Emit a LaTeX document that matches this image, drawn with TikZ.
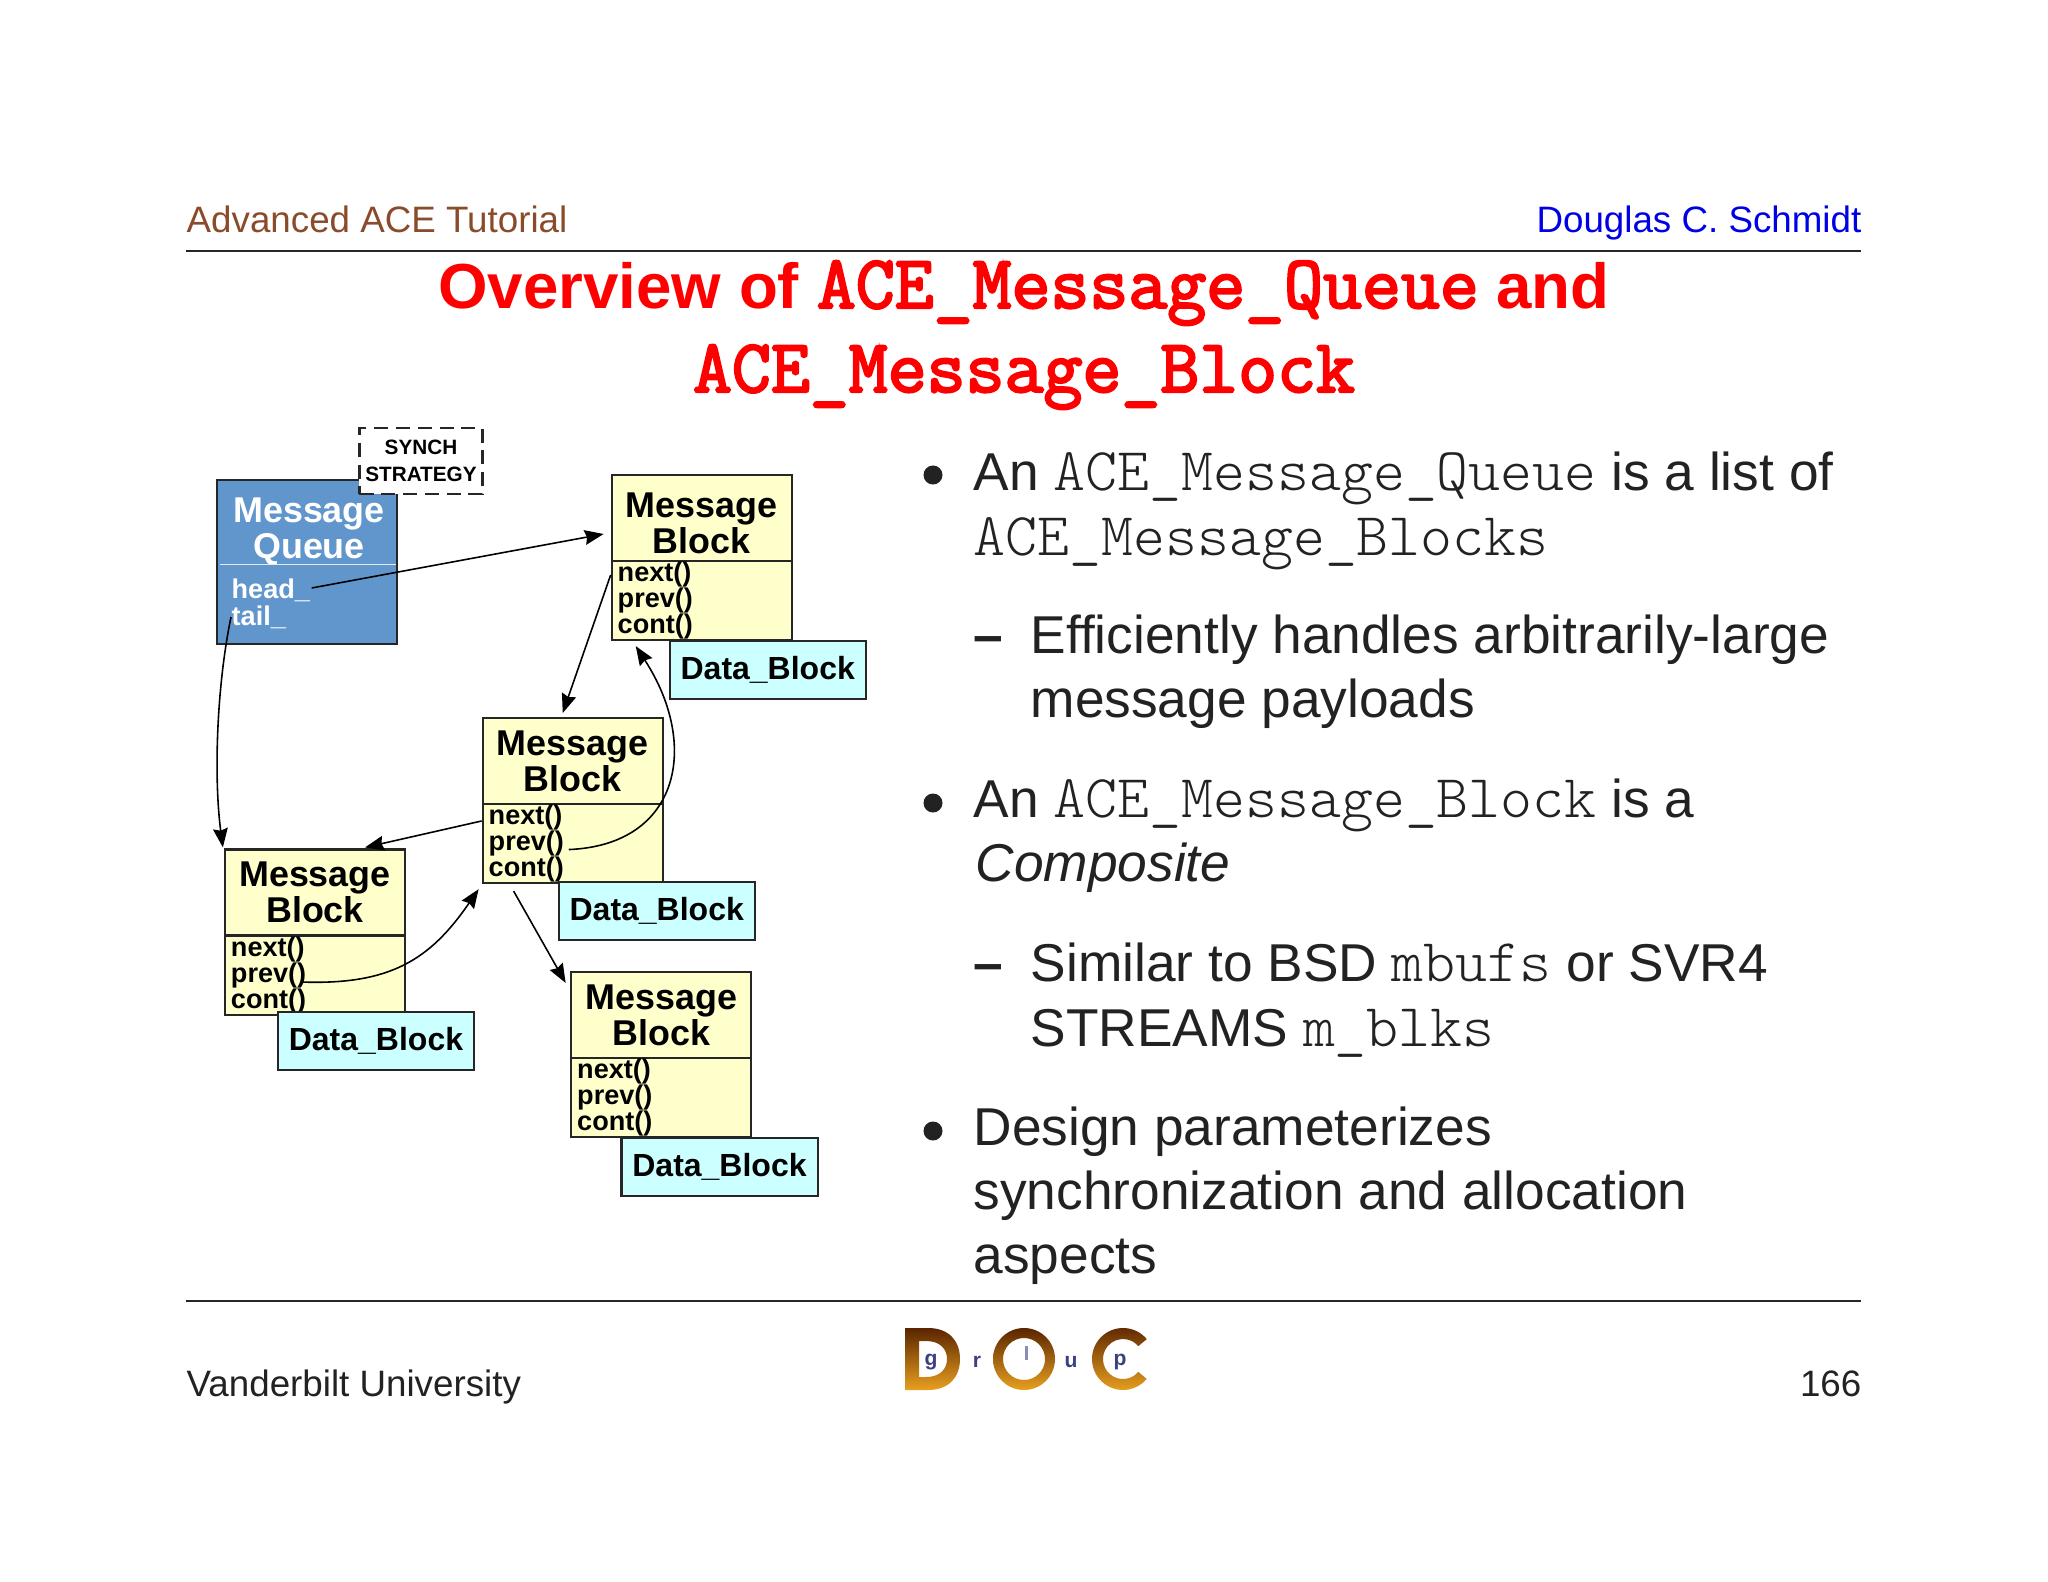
\documentclass[tikz,border=0pt]{standalone}
\usepackage{fontspec}
\setmainfont{Liberation Sans}
\newfontfamily\CodeFont{Latin Modern Mono Light}
\newfontfamily\HeadCodeFont{Latin Modern Mono}[FakeBold=3]
\usetikzlibrary{arrows.meta,positioning}
\definecolor{QueueBlue}{HTML}{6196CC}
\definecolor{BlockYellow}{HTML}{FFFFCC}
\definecolor{DataCyan}{HTML}{CCFFFF}
\definecolor{HeaderBrown}{HTML}{8A4B2A}
\definecolor{BodyGray}{HTML}{222222}
\definecolor{LogoDark}{HTML}{5A2400}
\definecolor{LogoLight}{HTML}{E8A020}
\definecolor{LogoBlue}{HTML}{3A4080}
\newcommand{\Code}[1]{{\CodeFont\fontsize{17.3pt}{18pt}\selectfont #1}}
\newcommand{\HeadCode}[1]{{\HeadCodeFont\fontsize{21.5pt}{20pt}\selectfont #1}}

\begin{document}
\begin{tikzpicture}
    [
        x=0.01cm,y=-0.01cm,
        BlockTitle/.style={rectangle,draw=black!85,line width=0.6pt,fill=BlockYellow,minimum width=1.8cm,minimum height=0.86cm,
            inner sep=0pt,align=center,font=\fontsize{10.2pt}{10.2pt}\selectfont\bfseries},
        BlockBody/.style={rectangle,draw=black!85,line width=0.6pt,fill=BlockYellow,text width=1.68cm,minimum height=0.79cm,
            inner xsep=0.06cm,inner ysep=-0.6pt,align=left,font=\fontsize{7.7pt}{7.4pt}\selectfont\bfseries},
        DataBox/.style={rectangle,draw=black!85,line width=0.6pt,fill=DataCyan,minimum width=1.96cm,minimum height=0.58cm,
            inner sep=0pt,font=\fontsize{9.1pt}{9.1pt}\selectfont\bfseries},
        QueueField/.style={anchor=west,inner sep=0pt,text=white,font=\fontsize{7.7pt}{7.4pt}\selectfont\bfseries},
        Link/.style={-{Stealth[length=5.4pt,width=4.2pt,inset=0.6pt]},line width=0.45pt},
        Line/.style={anchor=base west,inner sep=0pt,text=BodyGray,font=\fontsize{15.15pt}{18pt}\selectfont},
        Bullet/.style={circle,fill=BodyGray,inner sep=0pt,minimum size=0.19cm},
        Heading/.style={anchor=base,inner sep=0pt,text=red,font=\fontsize{18.1pt}{20pt}\selectfont\bfseries},
        Margin/.style={inner sep=0pt,font=\fontsize{10.45pt}{12pt}\selectfont},
        Rule/.style={line width=0.55pt,black!85},
        LogoLetter/.style={inner sep=0pt,text=LogoBlue,font=\fontsize{6pt}{6pt}\selectfont\bfseries}
    ]
    \useasboundingbox (0,0) rectangle (2048,1582);

    % header and footer
    \node[Margin,anchor=base west,text=HeaderBrown] (Course) at (186,232) {Advanced ACE Tutorial};
    \node[Margin,anchor=base east,text=blue!90!black] (Author) at (1862,232) {Douglas C. Schmidt};
    \coordinate (HeaderLeft) at (185.5,251);
    \coordinate (HeaderRight) at (1861,251);
    \draw[Rule] (HeaderLeft) -- (HeaderRight);
    \coordinate (FooterLeft) at (185.5,1301);
    \coordinate (FooterRight) at (1861,1301);
    \draw[Rule] (FooterLeft) -- (FooterRight);
    \node[Margin,anchor=base west,text=BodyGray] (School) at (186,1396) {Vanderbilt University};
    \node[Margin,anchor=base east,text=BodyGray] (Page) at (1862,1396) {166};

    \node[Heading] (Title1) at (1024,308) {Overview of \HeadCode{ACE\_Message\_Queue} and};
    \node[Heading] (Title2) at (1024,392) {\HeadCode{ACE\_Message\_Block}};

    % queue
    \node[rectangle,draw=black!85,line width=0.6pt,fill=QueueBlue,minimum width=1.8cm,minimum height=1.64cm,inner sep=0pt] (Queue) at (307,562) {};
    \node[inner sep=0pt,align=center,text=white,font=\fontsize{10.2pt}{10.2pt}\selectfont\bfseries] (QueueTitle) at (309,532) {Message\\Queue};
    \coordinate (QueueRuleLeft) at (220,564.5);
    \coordinate (QueueRuleRight) at (396,564.5);
    \draw[white!80!QueueBlue,line width=0.5pt] (QueueRuleLeft) -- (QueueRuleRight);
    \node[QueueField] (QueueHead) at (231,590) {head\_};
    \node[QueueField] (QueueTail) at (231,617) {tail\_};
    \node[rectangle,draw=black!85,dash pattern=on 4pt off 2.2pt,line width=0.6pt,fill=white,minimum width=1.23cm,minimum height=0.66cm,
        inner sep=0pt,align=center,font=\fontsize{5.9pt}{7.6pt}\selectfont\bfseries] (Synch) at (421,461) {SYNCH\\STRATEGY};

    % blocks
    \node[BlockTitle] (Block1) at (701.75,518) {\rule{0pt}{10pt}Message\\Block};
    \node[BlockBody,below=-0.6pt of Block1] (Body1) {next()\\prev()\\cont()};
    \node[DataBox] (Data1) at (767.75,670) {Data\_Block};

    \node[BlockTitle] (Block2) at (572.75,761) {Message\\Block};
    \node[BlockBody,below=-0.6pt of Block2] (Body2) {next()\\prev()\\cont()};
    \node[DataBox] (Data2) at (656.75,911) {Data\_Block};

    \node[BlockTitle] (Block3) at (315,892.5) {Message\\Block};
    \node[BlockBody,below=-0.6pt of Block3] (Body3) {next()\\prev()\\cont()};
    \node[DataBox] (Data3) at (376,1041) {Data\_Block};

    \node[BlockTitle] (Block4) at (661.25,1015) {Message\\Block};
    \node[BlockBody,below=-0.6pt of Block4] (Body4) {next()\\prev()\\cont()};
    \node[DataBox] (Data4) at (719.5,1167) {Data\_Block};

    % links
    \draw[Link] ([shift={(1,-2)}]QueueHead.east) -- ([shift={(-7,16)}]Block1.west);
    \draw[Link] (QueueTail.west) .. controls (216,690) and (214,780) .. ([shift={(-1,-1)}]Block3.north west);
    \draw[Link] ([shift={(0,15)}]Body1.north west) -- ([shift={(-10,-4)}]Block2.north);
    \draw[Link] ([shift={(-4,6)}]Body2.center) .. controls (680,845) and (700,745) .. ([shift={(-66,5)}]Body1.south);
    \draw[Link] ([shift={(0,18)}]Body2.north west) -- ([shift={(50,-1)}]Block3.north);
    \draw[Link] ([shift={(-13,7)}]Body3.center) .. controls (390,985) and (430,960) .. ([shift={(-3,5)}]Body2.south west);
    \draw[Link] ([shift={(32,7)}]Body2.south west) -- ([shift={(-4.5,12)}]Block4.north west);

    % bullet list
    \node[Bullet] (Dot1) at (933,475) {};
    \node[Line] (Item1a) at (973,490) {An \Code{ACE\_Message\_Queue} is a list of};
    \node[Line] (Item1b) at (973,555) {\Code{ACE\_Message\_Blocks}};
    \node[Line,font=\fontsize{15.15pt}{18pt}\selectfont\bfseries] (Dash1) at (973,653) {--};
    \node[Line] (Sub1a) at (1030,653) {Efficiently handles arbitrarily-large};
    \node[Line] (Sub1b) at (1030,717) {message payloads};
    \node[Bullet] (Dot2) at (933,803) {};
    \node[Line] (Item2a) at (973,817) {An \Code{ACE\_Message\_Block} is a};
    \node[Line] (Item2b) at (975,881) {\itshape Composite};
    \node[Line,font=\fontsize{15.15pt}{18pt}\selectfont\bfseries] (Dash2) at (973,981) {--};
    \node[Line] (Sub2a) at (1030,981) {Similar to BSD \Code{mbufs} or SVR4};
    \node[Line] (Sub2b) at (1030,1046) {STREAMS \Code{m\_blks}};
    \node[Bullet] (Dot3) at (933,1131) {};
    \node[Line] (Item3a) at (973,1145) {Design parameterizes};
    \node[Line] (Item3b) at (973,1209) {synchronization and allocation};
    \node[Line] (Item3c) at (973,1273) {aspects};

    % logo
    \shade[even odd rule,top color=LogoDark,bottom color=LogoLight]
        (905,1328) -- (928,1328) .. controls (950,1328) and (960,1342) .. (960,1359)
        .. controls (960,1376) and (950,1390) .. (928,1390) -- (905,1390) -- cycle
        (919,1341) -- (926,1341) .. controls (940,1341) and (947,1349) .. (947,1359)
        .. controls (947,1369) and (940,1377) .. (926,1377) -- (919,1377) -- cycle;
    \shade[even odd rule,top color=LogoDark,bottom color=LogoLight]
        (1024,1359) circle[radius=31] (1024,1359) circle[radius=21];
    \shade[top color=LogoDark,bottom color=LogoLight]
        (1123,1359) ++(-40:31) arc[start angle=-40,end angle=-320,radius=31]
        -- ++(220:11) arc[start angle=-320,end angle=-40,radius=20] -- cycle;
    \fill[LogoBlue!60] (1025,1346) rectangle (1028,1360);
    \node[LogoLetter] (LogoG) at (931,1362) {g};
    \node[LogoLetter] (LogoR) at (977,1362) {r};
    \node[LogoLetter] (LogoU) at (1071,1362) {u};
    \node[LogoLetter] (LogoP) at (1120,1362) {p};
\end{tikzpicture}
\end{document}
